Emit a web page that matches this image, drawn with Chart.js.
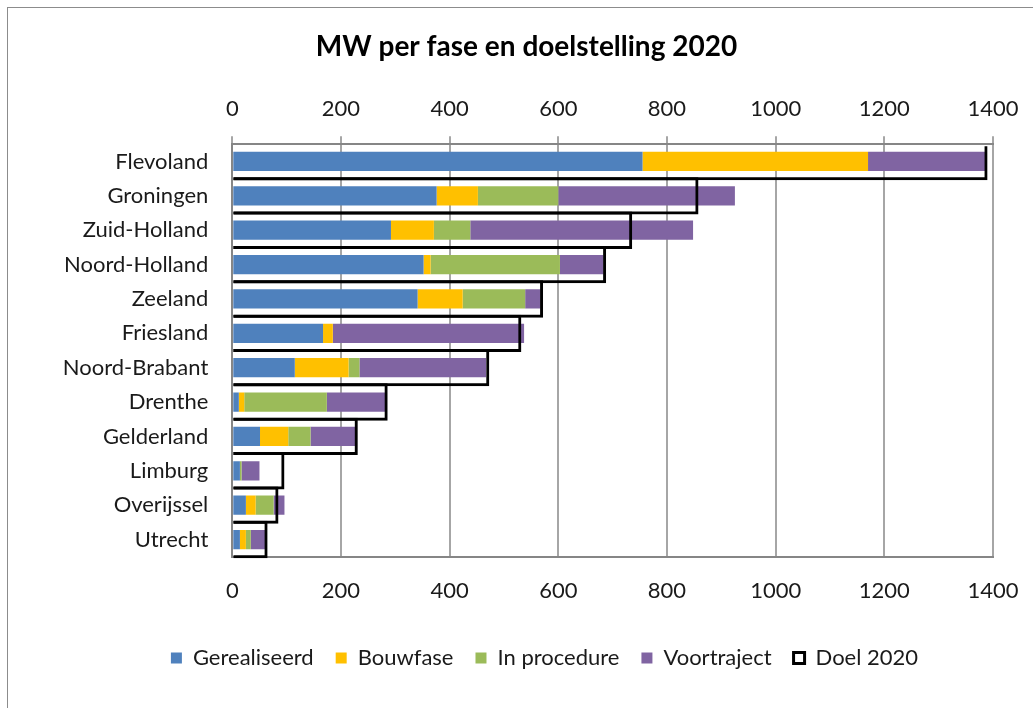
<!DOCTYPE html>
<html>
<head>
<meta charset="utf-8">
<script src="https://cdn.jsdelivr.net/npm/chart.js@4/dist/chart.umd.min.js"></script>
<style>
  body { margin: 0; background: #fff; overflow: hidden; }
  #frame { position: absolute; left: 7px; top: 7px; width: 1100px; height: 800px; border: 1px solid #8c8c8c; }
  #mwChart { position: absolute; left: 0; top: 0; }
</style>
</head>
<body>
<div id="frame"></div>
<canvas id="mwChart" width="1033" height="708"></canvas>
<script>
const provincies = ["Flevoland", "Groningen", "Zuid-Holland", "Noord-Holland", "Zeeland", "Friesland",
    "Noord-Brabant", "Drenthe", "Gelderland", "Limburg", "Overijssel", "Utrecht"];

const gerealiseerd = [755, 376, 292, 352, 341, 167, 115, 12, 51, 14, 25, 14];
const bouwfase     = [415,  76,  79,  13,  83,  18,  99, 10, 52,  0, 18, 11];
const inProcedure  = [  0, 148,  67, 238, 115,   0,  20, 152, 41,  3, 33,  9];
const voortraject  = [218, 325, 410,  80,  28, 352, 233, 107, 82, 33, 20, 29];
const doel2020     = [1390, 858, 736, 688, 572, 532, 473, 286, 231, 96, 85, 65];

const xTicks = [0, 200, 400, 600, 800, 1000, 1200, 1400];

const fontFam = "Lato, 'Open Sans', sans-serif";
const textColor = "#1a1a1a";

function phase(label, data, color) {
    return {
        label: label,
        data: data,
        backgroundColor: color,
        borderWidth: 0,
        barPercentage: 0.56,
        categoryPercentage: 1,
        stack: "fase"
    };
}

// the original sheet centres title and legend a bit right of the canvas middle
const shiftBlocks = {
    id: "shiftBlocks",
    afterLayout(chart) {
        const t = chart.titleBlock;
        t.left += 30; t.right += 30;
        const l = chart.legend;
        l.left += 48; l.right += 48;
    }
};

function xAxis(pos, pad, h, extra) {
    return Object.assign({
        position: pos,
        min: 0,
        max: 1400,
        afterBuildTicks: s => { s.ticks = xTicks.map(v => ({ value: v })); },
        afterFit: s => { s.height = h; s.paddingLeft = 0; s.paddingRight = 0; },
        ticks: { padding: pad, color: textColor, font: { family: fontFam, size: 22 }, callback: v => String(v) }
    }, extra);
}

var mwChart = new Chart(document.getElementById("mwChart"), {
    type: "bar",
    data: {
        labels: provincies,
        datasets: [
            phase("Gerealiseerd", gerealiseerd, "#4f81bd"),
            phase("Bouwfase", bouwfase, "#ffc000"),
            phase("In procedure", inProcedure, "#9bbb59"),
            phase("Voortraject", voortraject, "#8064a2"),
            {
                label: "Doel 2020",
                data: doel2020,
                backgroundColor: "rgba(0,0,0,0)",
                borderColor: "#000",
                borderWidth: 3,
                grouped: false,
                stack: "doel",
                order: -1,
                barPercentage: 1.087,
                categoryPercentage: 1,
                clip: { left: false, top: -2, right: false, bottom: false }
            }
        ]
    },
    options: {
        indexAxis: "y",
        responsive: false,
        animation: false,
        layout: { padding: { left: 0, right: 40, top: 0, bottom: 29 } },
        scales: {
            x: xAxis("top", 14.4, 80.7, {
                stacked: true,
                grid: { color: "#a6a6a6", lineWidth: 2, tickLength: 8 },
                border: { color: "#868686", width: 2 }
            }),
            x2: xAxis("bottom", 21.2, 68.3, {
                grid: { display: false, drawTicks: false },
                border: { color: "#868686", width: 2 }
            }),
            y: {
                stacked: true,
                afterFit: s => { s.width = 232.3; },
                grid: { display: false, drawTicks: false },
                border: { color: "#868686", width: 2 },
                ticks: { padding: 24, color: textColor, font: { family: fontFam, size: 22 } }
            }
        },
        plugins: {
            title: {
                display: true,
                text: "MW per fase en doelstelling 2020",
                color: "#000",
                font: { family: fontFam, size: 28, weight: "bold" },
                padding: { top: 30, bottom: 0 }
            },
            legend: {
                position: "bottom",
                labels: {
                    boxWidth: 11,
                    boxHeight: 11,
                    padding: 22,
                    color: textColor,
                    font: { family: fontFam, size: 22 },
                    sort: (a, b) => a.datasetIndex - b.datasetIndex
                }
            },
            tooltip: { enabled: false }
        }
    },
    plugins: [shiftBlocks]
});
</script>
</body>
</html>
